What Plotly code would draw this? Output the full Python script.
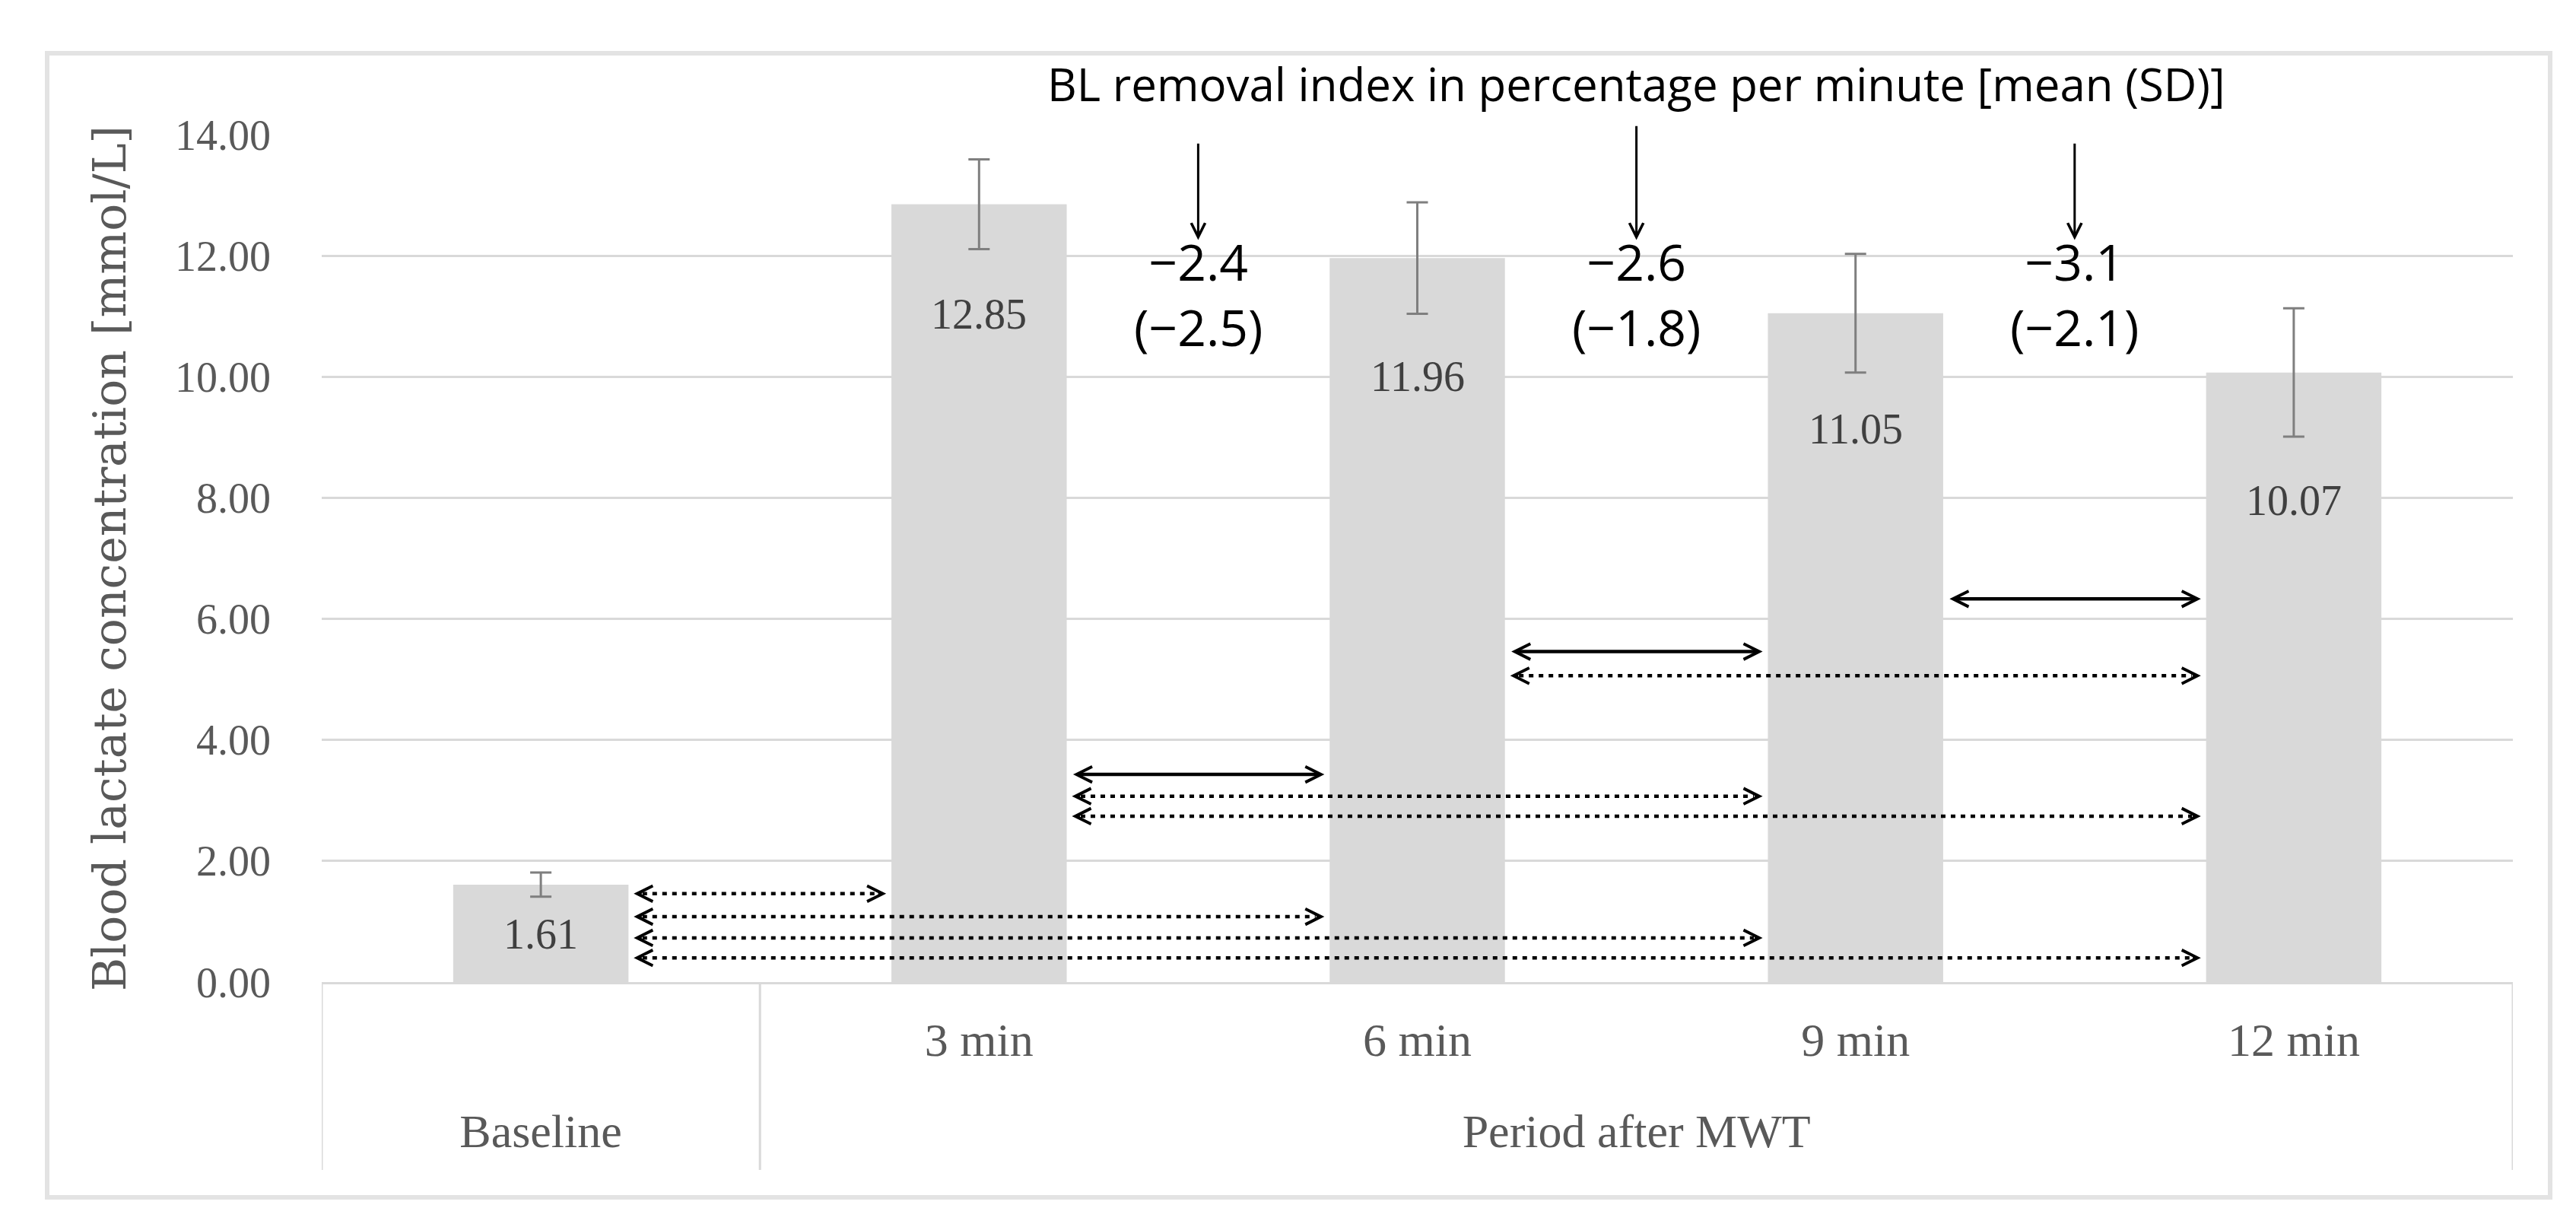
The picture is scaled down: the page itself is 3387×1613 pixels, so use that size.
import plotly.graph_objects as go

# ---------------- data ----------------
CATEGORIES = ["Baseline", "3 min", "6 min", "9 min", "12 min"]
GROUPS = ["Baseline", "Period after MWT", "Period after MWT", "Period after MWT", "Period after MWT"]
TICK_TEXT = ["", "3 min", "6 min", "9 min", "12 min"]
MEAN_BL = [1.61, 12.85, 11.96, 11.05, 10.07]
SD_BL = [0.20, 0.74, 0.92, 0.98, 1.06]
Y_TICKS = [0, 2, 4, 6, 8, 10, 12, 14]

# BL removal index between consecutive post-test samples
RI_PAIRS = [(1, 2), (2, 3), (3, 4)]
RI_MEAN = [-2.4, -2.6, -3.1]
RI_SD = [-2.5, -1.8, -2.1]

# pairwise comparisons (from index, to index)
SOLID_PAIRS = [(1, 2), (2, 3), (3, 4)]
DOTTED_PAIRS = [(0, 1), (0, 2), (0, 3), (0, 4), (1, 3), (1, 4), (2, 4)]

TITLE_TEXT = "BL removal index in percentage per minute [mean (SD)]"
Y_TITLE = "Blood lactate concentration [mmol/L]"

# ---------------- layout / style ----------------
SOLID_Y = [3.43, 5.46, 6.33]
DOTTED_Y = [1.46, 1.08, 0.73, 0.40, 3.07, 2.74, 5.06]
ARROW_TOP = [13.87, 14.16, 13.87]
ARROW_TIP = 12.26
RI_TEXT_Y = 11.37
TITLE_Y_PAPER = 1.060
LABEL_DROP_PX = [65, 144, 156, 152, 168]
BAR_HALF = 0.2
ARROW_GAP = 0.012

SERIF = "Liberation Serif"
SANS = "Open Sans"
GREY_TXT = "#595959"
GRID = "#d9d9d9"
BAR = "#d9d9d9"


def fmt(v):
    return f"{v:.1f}".replace("-", "\u2212")


n = len(CATEGORIES)

# group centres and boundaries, computed from the group list
group_names, group_start, group_end = [], [], []
for i, g in enumerate(GROUPS):
    if not group_names or group_names[-1] != g:
        group_names.append(g)
        group_start.append(i)
        group_end.append(i)
    else:
        group_end[-1] = i
group_centers = [(a + b) / 2 for a, b in zip(group_start, group_end)]
boundaries = [group_start[0] - 0.5] + [e + 0.5 for e in group_end]

fig = go.Figure()
fig.add_trace(go.Bar(
    x=CATEGORIES, y=MEAN_BL, width=2 * BAR_HALF,
    marker=dict(color=BAR, line=dict(width=0)),
    error_y=dict(type="data", array=SD_BL, color="#7f7f7f", thickness=3, width=14),
    hoverinfo="skip", showlegend=False,
))
# helper trace that keeps the overlay axis alive
fig.add_trace(go.Scatter(
    x=group_centers, y=[0] * len(group_centers), xaxis="x2", yaxis="y",
    mode="markers", marker=dict(opacity=0), hoverinfo="skip", showlegend=False,
))

annotations = []
shapes = []

# data labels
for i, (m, s) in enumerate(zip(MEAN_BL, SD_BL)):
    annotations.append(dict(
        x=i, y=m, xref="x2", yref="y", yshift=-LABEL_DROP_PX[i],
        text=f"{m:.2f}", showarrow=False,
        font=dict(family=SERIF, size=56, color="#404040"),
    ))

# solid double arrows
for (a, b), yv in zip(SOLID_PAIRS, SOLID_Y):
    x0 = a + BAR_HALF + ARROW_GAP
    x1 = b - BAR_HALF - ARROW_GAP
    annotations.append(dict(
        x=x1, y=yv, ax=x0, ay=yv, xref="x2", yref="y", axref="x2", ayref="y",
        text="", showarrow=True, arrowside="end+start",
        arrowhead=5, startarrowhead=5, arrowsize=0.9, startarrowsize=0.9,
        arrowwidth=4.5, arrowcolor="black", standoff=0, startstandoff=0,
    ))

# dotted double arrows
for (a, b), yv in zip(DOTTED_PAIRS, DOTTED_Y):
    x0 = a + BAR_HALF + ARROW_GAP
    x1 = b - BAR_HALF - ARROW_GAP
    shapes.append(dict(
        type="line", xref="x2", yref="y", x0=x0 + 0.02, x1=x1 - 0.02, y0=yv, y1=yv,
        line=dict(color="black", width=4.5, dash="6px,7px"),
    ))
    for tip, tail in ((x1, x1 - 0.02), (x0, x0 + 0.02)):
        annotations.append(dict(
            x=tip, y=yv, ax=tail, ay=yv, xref="x2", yref="y", axref="x2", ayref="y",
            text="", showarrow=True, arrowhead=5, arrowsize=0.9, arrowwidth=4.5,
            arrowcolor="black", standoff=0,
        ))

# removal index: arrows and values
for k, (a, b) in enumerate(RI_PAIRS):
    xm = (a + b) / 2
    annotations.append(dict(
        x=xm, y=ARROW_TIP, ax=xm, ay=ARROW_TOP[k], xref="x2", yref="y",
        axref="x2", ayref="y", text="", showarrow=True, arrowhead=5,
        arrowsize=1.2, arrowwidth=3, arrowcolor="black", standoff=0,
    ))
    annotations.append(dict(
        x=xm, y=RI_TEXT_Y, xref="x2", yref="y", yanchor="middle",
        text=fmt(RI_MEAN[k]) + "<br>(" + fmt(RI_SD[k]) + ")",
        showarrow=False, font=dict(family=SANS, size=66, color="black"),
    ))

# title of the removal index
annotations.append(dict(
    x=group_centers[-1], y=TITLE_Y_PAPER, xref="x2", yref="paper", yanchor="middle",
    text=TITLE_TEXT, showarrow=False, font=dict(family=SANS, size=60, color="black"),
))

# category dividers
for xb in boundaries:
    shapes.append(dict(
        type="line", xref="x2", yref="paper", x0=xb, x1=xb, y0=0, y1=-0.2217,
        line=dict(color=GRID, width=3), layer="below",
    ))

# outer chart frame
shapes.append(dict(
    type="rect", xref="paper", yref="paper", x0=-0.1253, x1=1.0170, y0=-0.2540, y1=1.0961,
    line=dict(color="#e3e3e3", width=6), fillcolor="rgba(0,0,0,0)", layer="below",
))

fig.update_layout(
    width=3387, height=1613,
    margin=dict(l=415, r=91, t=169, b=330),
    paper_bgcolor="white", plot_bgcolor="white",
    bargap=0.6,
    annotations=annotations, shapes=shapes,
    xaxis=dict(
        type="category", categoryorder="array", categoryarray=CATEGORIES,
        range=[-0.5, n - 0.5], tickmode="array", tickvals=CATEGORIES, ticktext=TICK_TEXT,
        tickfont=dict(family=SERIF, size=62, color=GREY_TXT),
        showline=True, linecolor=GRID, linewidth=3, showgrid=False, zeroline=False,
        ticks="", ticklabelstandoff=20, fixedrange=True,
    ),
    xaxis2=dict(
        overlaying="x", anchor="y", side="bottom", range=[-0.5, n - 0.5],
        tickmode="array", tickvals=group_centers, ticktext=group_names,
        tickfont=dict(family=SERIF, size=62, color=GREY_TXT),
        showline=False, showgrid=False, zeroline=False, ticks="",
        ticklabelstandoff=154, fixedrange=True,
    ),
    yaxis=dict(
        range=[0, 14], tickmode="array", tickvals=Y_TICKS, tickformat=".2f",
        tickfont=dict(family=SERIF, size=56, color=GREY_TXT),
        showgrid=True, gridcolor=GRID, gridwidth=3, zeroline=False, showline=False,
        ticks="", ticklabelstandoff=66, fixedrange=True,
        title=dict(text=Y_TITLE, font=dict(family="DejaVu Serif", size=60, color=GREY_TXT), standoff=45),
    ),
)

fig.write_html("out.html")
